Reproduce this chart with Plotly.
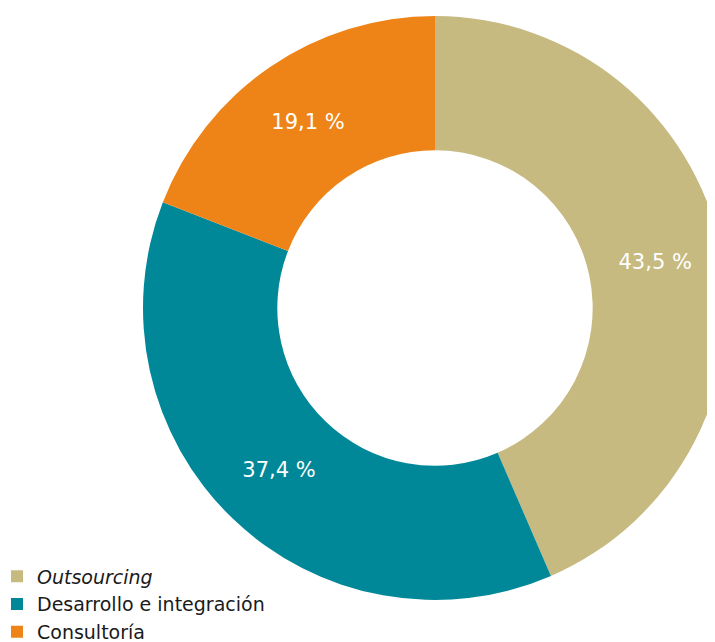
import plotly.graph_objects as go

labels = ["<i>Outsourcing</i>", "Desarrollo e integración", "Consultoría"]
values = [43.5, 37.4, 19.1]
colors = ["#C6BA80", "#008898", "#EE8418"]

# page body has an 8px margin, so the figure is laid out slightly larger
W, H = 730, 650
CX, CY, R = 427, 300, 292  # ring centre and radius in figure pixels

fig = go.Figure(go.Pie(
    labels=labels,
    values=values,
    sort=False,
    direction="clockwise",
    rotation=0,
    hole=0.54,
    marker=dict(colors=colors, line=dict(width=0)),
    texttemplate="%{value:.1f} %",
    textposition="inside",
    insidetextorientation="horizontal",
    textfont=dict(color="white", size=21, family="DejaVu Sans"),
    domain=dict(x=[(CX - R) / W, (CX + R) / W],
                y=[(H - CY - R) / H, (H - CY + R) / H]),
    hoverinfo="label+value",
))

fig.update_layout(
    width=W, height=H,
    margin=dict(l=0, r=0, t=0, b=0, autoexpand=False),
    paper_bgcolor="white",
    plot_bgcolor="white",
    separators=",.",
    font=dict(family="DejaVu Sans", size=19, color="#1a1a1a"),
    showlegend=True,
    legend=dict(x=-11 / W, y=6.5 / H, xanchor="left", yanchor="bottom",
                orientation="v", tracegroupgap=0,
                font=dict(size=19, color="#1a1a1a"),
                bgcolor="rgba(0,0,0,0)"),
)

fig.write_html("out.html")
